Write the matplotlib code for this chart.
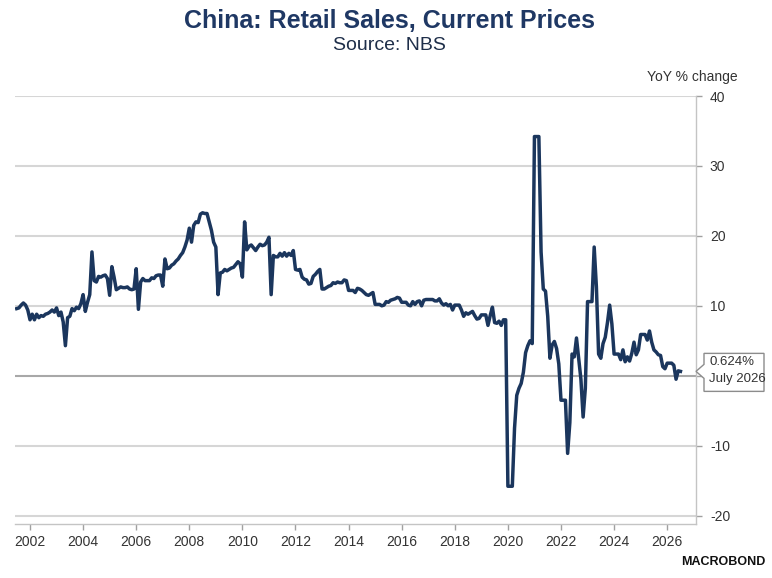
import matplotlib.pyplot as plt
import numpy as np
from matplotlib.patches import Polygon
from matplotlib.transforms import IdentityTransform

# monthly YoY % change, China retail sales (current prices), Jul 2001 - Jul 2026
start_year, start_month = 2001, 7

yoy_2001_2005 = [
    9.6, 9.7, 10.1, 10.4, 10.1, 9.4,                                  # 2001 (Jul-Dec)
    8.0, 8.8, 8.0, 8.8, 8.3, 8.6, 8.5, 8.8, 8.9, 9.1, 9.4, 9.1,       # 2002
    9.7, 8.6, 9.1, 7.7, 4.3, 8.3, 8.5, 9.6, 9.3, 9.8, 9.6, 10.3,      # 2003
    11.6, 9.2, 10.5, 11.6, 17.7, 13.6, 13.4, 14.2, 14.1, 14.3, 14.4, 13.9,  # 2004
    11.5, 15.6, 14.1, 12.3, 12.5, 12.7, 12.6, 12.6, 12.7, 12.4, 12.3, 12.4,  # 2005
]
yoy_2006_2010 = [
    15.3, 9.5, 13.4, 13.9, 13.6, 13.6, 13.6, 14.0, 13.9, 14.3, 14.4, 14.4,
    12.8, 16.7, 15.3, 15.4, 15.8, 16.0, 16.4, 16.7, 17.2, 17.6, 18.4, 19.4,
    21.1, 19.1, 21.5, 22.0, 21.9, 23.1, 23.3, 23.2, 23.2, 22.0, 20.8, 19.1,
    18.4, 11.6, 14.7, 14.8, 15.2, 15.0, 15.2, 15.4, 15.5, 15.9, 16.3, 16.0,
    14.1, 22.0, 18.0, 18.5, 18.7, 18.3, 17.9, 18.4, 18.8, 18.6, 18.7, 19.1,
]
yoy_2011_2015 = [
    19.8, 11.6, 17.2, 17.0, 17.0, 17.5, 17.1, 17.6, 17.1, 17.5, 17.2, 17.9,
    15.2, 15.1, 15.2, 14.1, 13.8, 13.7, 13.1, 13.2, 14.2, 14.5, 14.9, 15.2,
    12.4, 12.4, 12.6, 12.8, 12.9, 13.3, 13.2, 13.4, 13.3, 13.3, 13.7, 13.6,
    12.2, 12.2, 12.2, 11.9, 12.5, 12.4, 12.2, 11.9, 11.6, 11.5, 11.7, 11.9,
    10.2, 10.2, 10.2, 10.0, 10.1, 10.6, 10.5, 10.8, 10.9, 11.0, 11.2, 11.1,
]
yoy_2016_2020 = [
    10.5, 10.5, 10.5, 10.1, 10.0, 10.6, 10.2, 10.6, 10.7, 10.0, 10.8, 10.9,
    10.9, 10.9, 10.9, 10.7, 10.7, 11.0, 10.4, 10.1, 10.3, 10.0, 10.2, 9.4,
    10.1, 10.1, 10.1, 9.4, 8.5, 9.0, 8.8, 9.0, 9.2, 8.6, 8.1, 8.2,
    8.7, 8.7, 8.7, 7.2, 8.6, 9.8, 7.6, 7.5, 7.8, 7.2, 8.0, 8.0,
    -15.8, -15.8, -15.8, -7.5, -2.8, -1.8, -1.1, 0.5, 3.3, 4.3, 5.0, 4.6,
]
yoy_2021_2026 = [
    34.2, 34.2, 34.2, 17.7, 12.4, 12.1, 8.5, 2.5, 4.4, 4.9, 3.9, 1.7,
    -3.5, -3.5, -3.5, -11.1, -6.7, 3.1, 2.7, 5.4, 2.5, -0.5, -5.9, -1.8,
    10.6, 10.6, 10.6, 18.4, 12.7, 3.1, 2.5, 4.6, 5.5, 7.6, 10.1, 7.4,
    3.1, 3.1, 3.1, 2.3, 3.7, 2.0, 2.7, 2.1, 3.2, 4.8, 3.0, 3.7,
    5.9, 5.9, 5.9, 5.1, 6.4, 4.8, 3.7, 3.4, 3.0, 2.9, 1.3, 1.0,
    1.8, 1.8, 1.8, 1.5, -0.5, 0.7, 0.624,                            # 2026 (Jan-Jul)
]
last_label = 'July 2026'
year_ticks = list(range(2002, 2027, 2))
value_ticks = [-20, -10, 0, 10, 20, 30, 40]

values = np.array(yoy_2001_2005 + yoy_2006_2010 + yoy_2011_2015 + yoy_2016_2020 + yoy_2021_2026)
x = start_year + (start_month - 1) / 12 + np.arange(len(values)) / 12

plt.rcParams['font.family'] = ['Liberation Sans', 'DejaVu Sans']
plt.rcParams['axes.unicode_minus'] = False

W, H = 772, 578
fig = plt.figure(figsize=(W / 100, H / 100), dpi=100)
ax = fig.add_axes([15 / W, 1 - 524 / H, (696 - 15) / W, (524 - 96) / H])

# grid
for v in value_ticks:
    if v == 0:
        ax.axhline(v, color='#a8a8a8', lw=1.5, zorder=1)
    else:
        ax.axhline(v, color='#d6d6d6', lw=1.5, zorder=0)

ax.plot(x, values, color='#1b365d', lw=2.5, zorder=3)

ax.set_xlim(2001.435, 2027.085)
ax.set_ylim(-21.2, 40)

ax.spines['top'].set_visible(False)
ax.spines['left'].set_visible(False)
for s in ['right', 'bottom']:
    ax.spines[s].set_color('#c4c4c4')
    ax.spines[s].set_linewidth(1)

ax.yaxis.tick_right()
ax.set_yticks(value_ticks)
# the 0 label sits under the last-value callout
ax.set_yticklabels(['' if v == 0 else str(v) for v in value_ticks])
ax.set_xticks(year_ticks)
ax.set_xticklabels([str(t) for t in year_ticks])
ax.tick_params(axis='both', length=4, width=1, color='#a0a0a0', labelcolor='#333333', labelsize=10)
ax.tick_params(axis='y', pad=6)
ax.tick_params(axis='x', pad=4)

fig.text(0.505, 1 - 21 / H, 'China: Retail Sales, Current Prices', ha='center', va='center',
         fontsize=18, fontweight='bold', color='#1f3864')
fig.text(0.505, 1 - 46 / H, 'Source: NBS', ha='center', va='center', fontsize=14, color='#1f2f4a')
fig.text(738 / W, 1 - 77 / H, 'YoY % change', ha='right', va='center', fontsize=10, color='#333333')
fig.text(766 / W, 1 - 562 / H, 'MACROBOND', ha='right', va='center', fontsize=9,
         fontweight='bold', color='#111111')

# last value callout
tx, ty = ax.transData.transform((ax.get_xlim()[1], values[-1]))
verts = [(tx, ty), (tx + 8, ty + 7), (tx + 8, ty + 18), (tx + 68, ty + 18),
         (tx + 68, ty - 20), (tx + 8, ty - 20), (tx + 8, ty - 7)]
fig.add_artist(Polygon(verts, closed=True, transform=IdentityTransform(),
                       facecolor='white', edgecolor='#8c8c8c', lw=1, zorder=5))
fig.text(tx + 13, ty + 9, f'{values[-1]:.3f}%', transform=IdentityTransform(),
         ha='left', va='center', fontsize=9.5, color='#333333', zorder=6)
fig.text(tx + 13, ty - 8, last_label, transform=IdentityTransform(),
         ha='left', va='center', fontsize=9.5, color='#333333', zorder=6)

fig.savefig('out.png', dpi=100)
